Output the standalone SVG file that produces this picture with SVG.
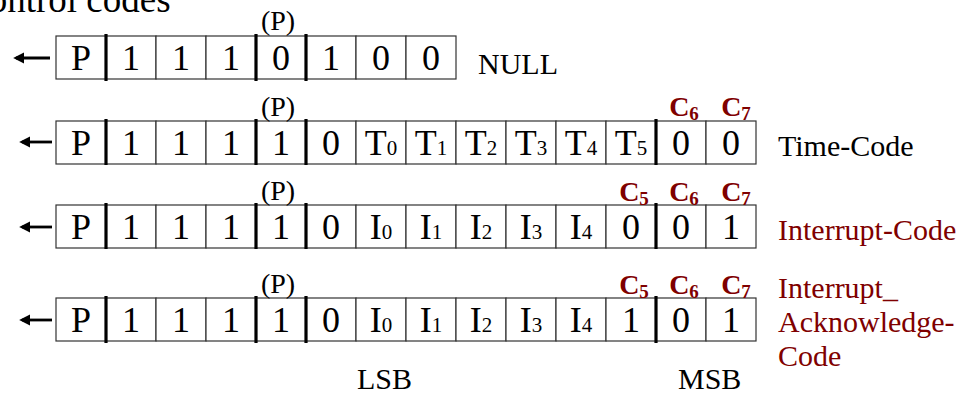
<svg xmlns="http://www.w3.org/2000/svg" width="959" height="394" viewBox="0 0 959 394">
<style>
text{font-family:"Liberation Serif","Times New Roman",serif;fill:#000}
.cell{fill:#fff;stroke:#333;stroke-width:1.2}
.thick{stroke:#000;stroke-width:3.2}
.v{font-size:36px;text-anchor:middle}
.sub{font-size:21px}
.p{font-size:28px;text-anchor:middle}
.lbl{font-size:30px}
.red{fill:#7f0000}
.c{font-size:28px;font-weight:bold;fill:#7f0000;text-anchor:middle}
.cs{font-size:19px}
.arr{stroke:#000;stroke-width:2.8}
</style>
<defs>
<marker id="ah" markerWidth="4" markerHeight="4" refX="3" refY="2" orient="auto" markerUnits="strokeWidth">
<path d="M0,0 L4,2 L0,4 Z" fill="#000"/>
</marker>
<g id="cells8">
<rect class="cell" x="56" y="0" width="50" height="43"/>
<rect class="cell" x="106" y="0" width="50" height="43"/>
<rect class="cell" x="156" y="0" width="50" height="43"/>
<rect class="cell" x="206" y="0" width="50" height="43"/>
<rect class="cell" x="256" y="0" width="50" height="43"/>
<rect class="cell" x="306" y="0" width="50" height="43"/>
<rect class="cell" x="356" y="0" width="50" height="43"/>
<rect class="cell" x="406" y="0" width="50" height="43"/>
</g>
<g id="cells14">
<use href="#cells8"/>
<rect class="cell" x="456" y="0" width="50" height="43"/>
<rect class="cell" x="506" y="0" width="50" height="43"/>
<rect class="cell" x="556" y="0" width="50" height="43"/>
<rect class="cell" x="606" y="0" width="50" height="43"/>
<rect class="cell" x="656" y="0" width="50" height="43"/>
<rect class="cell" x="706" y="0" width="50" height="43"/>
</g>
</defs>

<text x="-36" y="12" font-size="37">Control codes</text>

<g id="connectors">
<line class="arr" x1="50" y1="58" x2="16" y2="58" marker-end="url(#ah)"/>
<line class="arr" x1="52" y1="142" x2="22" y2="142" marker-end="url(#ah)"/>
<line class="arr" x1="52" y1="227" x2="22" y2="227" marker-end="url(#ah)"/>
<line class="arr" x1="52" y1="320" x2="22" y2="320" marker-end="url(#ah)"/>
</g>

<g id="null-row">
<use href="#cells8" y="36"/>
<line class="thick" x1="106" y1="34" x2="106" y2="81"/>
<line class="thick" x1="256" y1="34" x2="256" y2="81"/>
<line class="thick" x1="306" y1="34" x2="306" y2="81"/>
<text class="p" x="278" y="30">(P)</text>
<text class="v" x="81" y="70">P</text>
<text class="v" x="131" y="70">1</text>
<text class="v" x="181" y="70">1</text>
<text class="v" x="231" y="70">1</text>
<text class="v" x="281" y="70">0</text>
<text class="v" x="331" y="70">1</text>
<text class="v" x="381" y="70">0</text>
<text class="v" x="431" y="70">0</text>
<text class="lbl" x="478" y="74">NULL</text>
</g>

<g id="time-code-row">
<use href="#cells14" y="121"/>
<line class="thick" x1="106" y1="119" x2="106" y2="165"/>
<line class="thick" x1="256" y1="119" x2="256" y2="165"/>
<line class="thick" x1="306" y1="119" x2="306" y2="165"/>
<line class="thick" x1="656" y1="119" x2="656" y2="165"/>
<text class="p" x="278" y="116">(P)</text>
<text class="c" x="684" y="116">C<tspan class="cs" dy="4">6</tspan></text>
<text class="c" x="736" y="116">C<tspan class="cs" dy="4">7</tspan></text>
<text class="v" x="81" y="155">P</text>
<text class="v" x="131" y="155">1</text>
<text class="v" x="181" y="155">1</text>
<text class="v" x="231" y="155">1</text>
<text class="v" x="281" y="155">1</text>
<text class="v" x="331" y="155">0</text>
<text class="v" x="381" y="155">T<tspan class="sub">0</tspan></text>
<text class="v" x="431" y="155">T<tspan class="sub">1</tspan></text>
<text class="v" x="481" y="155">T<tspan class="sub">2</tspan></text>
<text class="v" x="531" y="155">T<tspan class="sub">3</tspan></text>
<text class="v" x="581" y="155">T<tspan class="sub">4</tspan></text>
<text class="v" x="631" y="155">T<tspan class="sub">5</tspan></text>
<text class="v" x="681" y="155">0</text>
<text class="v" x="731" y="155">0</text>
<text class="lbl" x="778" y="156">Time-Code</text>
</g>

<g id="interrupt-code-row">
<use href="#cells14" y="205"/>
<line class="thick" x1="106" y1="203" x2="106" y2="249"/>
<line class="thick" x1="256" y1="203" x2="256" y2="249"/>
<line class="thick" x1="306" y1="203" x2="306" y2="249"/>
<line class="thick" x1="656" y1="203" x2="656" y2="249"/>
<text class="p" x="278" y="200">(P)</text>
<text class="c" x="634" y="201">C<tspan class="cs" dy="4">5</tspan></text>
<text class="c" x="684" y="201">C<tspan class="cs" dy="4">6</tspan></text>
<text class="c" x="736" y="201">C<tspan class="cs" dy="4">7</tspan></text>
<text class="v" x="81" y="239">P</text>
<text class="v" x="131" y="239">1</text>
<text class="v" x="181" y="239">1</text>
<text class="v" x="231" y="239">1</text>
<text class="v" x="281" y="239">1</text>
<text class="v" x="331" y="239">0</text>
<text class="v" x="381" y="239">I<tspan class="sub">0</tspan></text>
<text class="v" x="431" y="239">I<tspan class="sub">1</tspan></text>
<text class="v" x="481" y="239">I<tspan class="sub">2</tspan></text>
<text class="v" x="531" y="239">I<tspan class="sub">3</tspan></text>
<text class="v" x="581" y="239">I<tspan class="sub">4</tspan></text>
<text class="v" x="631" y="239">0</text>
<text class="v" x="681" y="239">0</text>
<text class="v" x="731" y="239">1</text>
<text class="lbl red" x="778" y="240">Interrupt-Code</text>
</g>

<g id="interrupt-ack-row">
<use href="#cells14" y="298"/>
<line class="thick" x1="106" y1="296" x2="106" y2="343"/>
<line class="thick" x1="256" y1="296" x2="256" y2="343"/>
<line class="thick" x1="306" y1="296" x2="306" y2="343"/>
<line class="thick" x1="656" y1="296" x2="656" y2="343"/>
<text class="p" x="278" y="293">(P)</text>
<text class="c" x="634" y="294">C<tspan class="cs" dy="4">5</tspan></text>
<text class="c" x="684" y="294">C<tspan class="cs" dy="4">6</tspan></text>
<text class="c" x="736" y="294">C<tspan class="cs" dy="4">7</tspan></text>
<text class="v" x="81" y="332">P</text>
<text class="v" x="131" y="332">1</text>
<text class="v" x="181" y="332">1</text>
<text class="v" x="231" y="332">1</text>
<text class="v" x="281" y="332">1</text>
<text class="v" x="331" y="332">0</text>
<text class="v" x="381" y="332">I<tspan class="sub">0</tspan></text>
<text class="v" x="431" y="332">I<tspan class="sub">1</tspan></text>
<text class="v" x="481" y="332">I<tspan class="sub">2</tspan></text>
<text class="v" x="531" y="332">I<tspan class="sub">3</tspan></text>
<text class="v" x="581" y="332">I<tspan class="sub">4</tspan></text>
<text class="v" x="631" y="332">1</text>
<text class="v" x="681" y="332">0</text>
<text class="v" x="731" y="332">1</text>
<text class="lbl red" x="778" y="298">Interrupt_</text>
<text class="lbl red" x="778" y="332">Acknowledge-</text>
<text class="lbl red" x="778" y="366">Code</text>
</g>

<text class="lbl" x="357" y="389">LSB</text>
<text class="lbl" x="678" y="389">MSB</text>
</svg>
